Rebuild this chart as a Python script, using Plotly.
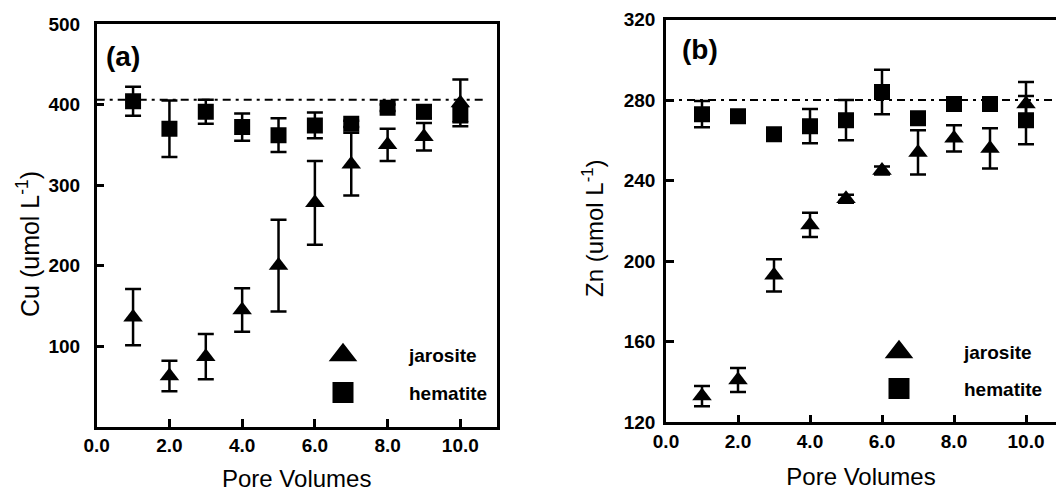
import plotly.graph_objects as go

# ---------------- data ----------------
pore_volumes = [1, 2, 3, 4, 5, 6, 7, 8, 9, 10]

cu_jarosite = [136, 63, 87, 145, 200, 278, 326, 350, 360, 402]
cu_jarosite_err = [35, 19, 28, 27, 57, 52, 39, 20, 17, 29]
cu_hematite = [404, 370, 391, 372, 362, 374, 376, 396, 391, 388]
cu_hematite_err = [18, 35, 15, 17, 21, 16, 4, 4, 8, 10]
cu_influent = 406

zn_jarosite = [133, 141, 193, 218, 231, 245, 254, 261, 256, 278]
zn_jarosite_err = [5, 6, 8, 6, 2, 2, 11, 6.5, 10, 11]
zn_hematite = [273, 272, 263, 267, 270, 284, 271, 278, 278, 270]
zn_hematite_err = [6.5, 3, 1, 8.5, 10, 11, 3, 2, 3, 12]
zn_influent = 280

x_tickvals = [0, 2, 4, 6, 8, 10]
x_ticktext = ["0.0", "2.0", "4.0", "6.0", "8.0", "10.0"]
cu_tickvals = [100, 200, 300, 400, 500]
zn_tickvals = [120, 160, 200, 240, 280, 320]

W, H = 1056, 492
FONT = "Liberation Sans, Arial, sans-serif"


def px_x(p):
    return p / W


def px_y(p):
    return 1 - p / H


fig = go.Figure()

tri = dict(symbol="triangle-up", size=17, color="black")
sq = dict(symbol="square", size=16, color="black")


def err(arr):
    return dict(type="data", array=arr, visible=True, color="black",
                thickness=2.5, width=8)


# panel (a)
fig.add_trace(go.Scatter(x=pore_volumes, y=cu_hematite, mode="markers",
                         marker=sq, error_y=err(cu_hematite_err),
                         xaxis="x", yaxis="y", showlegend=False))
fig.add_trace(go.Scatter(x=pore_volumes, y=cu_jarosite, mode="markers",
                         marker=tri, error_y=err(cu_jarosite_err),
                         xaxis="x", yaxis="y", showlegend=False))
# panel (b)
fig.add_trace(go.Scatter(x=pore_volumes, y=zn_hematite, mode="markers",
                         marker=sq, error_y=err(zn_hematite_err),
                         xaxis="x2", yaxis="y2", showlegend=False))
fig.add_trace(go.Scatter(x=pore_volumes, y=zn_jarosite, mode="markers",
                         marker=tri, error_y=err(zn_jarosite_err),
                         xaxis="x2", yaxis="y2", showlegend=False))

# legend-only entries (bigger symbols)
leg_tri = dict(symbol="triangle-up", size=16, color="black",
               line=dict(color="black", width=5))
leg_sq = dict(symbol="square", size=16, color="black",
              line=dict(color="black", width=5))
for lg, xa, ya in [("legend", "x", "y"), ("legend2", "x2", "y2")]:
    fig.add_trace(go.Scatter(x=[None], y=[None], mode="markers", marker=leg_tri,
                             name="jarosite", legend=lg, legendgroup=lg + "j",
                             xaxis=xa, yaxis=ya))
    fig.add_trace(go.Scatter(x=[None], y=[None], mode="markers", marker=leg_sq,
                             name="hematite", legend=lg, legendgroup=lg + "h",
                             xaxis=xa, yaxis=ya))

# influent concentration lines
fig.add_shape(type="line", xref="x domain", yref="y", x0=0, x1=0.975,
              y0=cu_influent, y1=cu_influent,
              line=dict(color="black", width=2, dash="8px,5px,3px,5px"))
fig.add_shape(type="line", xref="x2 domain", yref="y2", x0=0, x1=1,
              y0=zn_influent, y1=zn_influent,
              line=dict(color="black", width=2, dash="8px,5px,3px,5px"))

tickfont = dict(family=FONT, size=19, color="black", weight="bold")
axis_common = dict(showline=True, linecolor="black", linewidth=2.5,
                   ticks="inside", ticklen=8, tickwidth=2.5, tickcolor="black",
                   showgrid=False, zeroline=False, tickfont=tickfont,
                   automargin=False)
title_font = dict(family=FONT, size=24, color="black")

a_left, a_right, a_top, a_bot = 96.7, 496.7, 24, 426.7
b_left, b_top, b_bot = 666, 19.5, 422.3
b_xmax = (W - b_left) / 36.0

fig.update_layout(
    width=W, height=H,
    margin=dict(l=0, r=0, t=0, b=0),
    paper_bgcolor="white", plot_bgcolor="white",
    font=dict(family=FONT, color="black"),
    xaxis=dict(domain=[px_x(a_left), px_x(a_right)], range=[0, 11],
               tickvals=x_tickvals, ticktext=x_ticktext, mirror=True,
               anchor="y", title=dict(text="Pore Volumes", font=title_font, standoff=20),
               **axis_common),
    yaxis=dict(domain=[px_y(a_bot), px_y(a_top)], range=[0, 500],
               tickvals=cu_tickvals, mirror=True, anchor="x",
               ticklabelstandoff=10, **axis_common),
    xaxis2=dict(domain=[px_x(b_left), 1.0], range=[0, b_xmax],
                tickvals=x_tickvals, ticktext=x_ticktext, mirror=True,
                anchor="y2", title=dict(text="Pore Volumes", font=title_font, standoff=18),
                **axis_common),
    yaxis2=dict(domain=[px_y(b_bot), px_y(b_top)], range=[120, 320],
                tickvals=zn_tickvals, mirror=False, anchor="x2",
                ticklabelstandoff=4, **axis_common),
    legend=dict(x=px_x(277), y=px_y(336), xanchor="left", yanchor="top",
                itemwidth=122, tracegroupgap=10, bgcolor="rgba(0,0,0,0)",
                font=dict(family=FONT, size=19, color="black", weight="bold")),
    legend2=dict(x=px_x(834), y=px_y(333), xanchor="left", yanchor="top",
                 itemwidth=120, tracegroupgap=9, bgcolor="rgba(0,0,0,0)",
                 font=dict(family=FONT, size=19, color="black", weight="bold")),
    annotations=[
        dict(text="Cu (umol L<sup>-1</sup>)", x=px_x(28), y=px_y(244),
             xref="paper", yref="paper", textangle=-90, showarrow=False,
             xanchor="center", yanchor="middle",
             font=dict(family=FONT, size=25, color="black")),
        dict(text="Zn (umol L<sup>-1</sup>)", x=px_x(593), y=px_y(228),
             xref="paper", yref="paper", textangle=-90, showarrow=False,
             xanchor="center", yanchor="middle",
             font=dict(family=FONT, size=24, color="black")),
        dict(text="(a)", x=px_x(123), y=px_y(57), xref="paper", yref="paper",
             showarrow=False, xanchor="center", yanchor="middle",
             font=dict(family=FONT, size=28, color="black", weight="bold")),
        dict(text="(b)", x=px_x(700), y=px_y(50), xref="paper", yref="paper",
             showarrow=False, xanchor="center", yanchor="middle",
             font=dict(family=FONT, size=28, color="black", weight="bold")),
    ],
)

fig.write_html("out.html",
               config={"displayModeBar": False},
               post_script="document.body.style.margin='0px';"
                           "document.body.style.overflow='hidden';")
